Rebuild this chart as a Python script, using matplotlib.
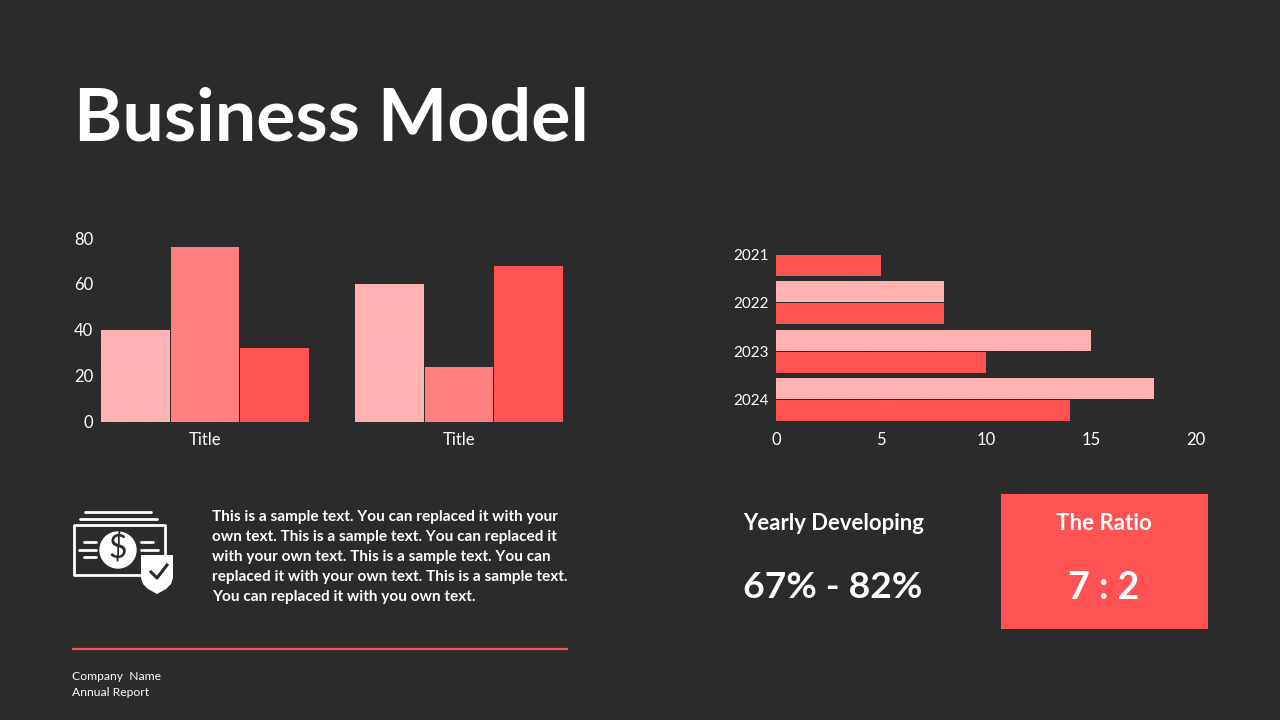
import numpy as np
import matplotlib
matplotlib.use('Agg')
import matplotlib.pyplot as plt
from matplotlib.patches import Rectangle, Circle, Polygon

BG = '#2b2b2b'
RED = '#ff5252'
MID = '#ff8080'
PINK = '#ffb3b3'

# left chart
group_labels = ['Title', 'Title']
series_a = [40, 60]
series_b = [76, 24]
series_c = [32, 68]

# right chart
years = ['2021', '2022', '2023', '2024']
pink_vals = [0, 8, 15, 18]
red_vals = [5, 8, 10, 14]

body_lines = [
    'This is a sample text. You can replaced it with your',
    'own text. This is a sample text. You can replaced it',
    'with your own text. This is a sample text. You can',
    'replaced it with your own text. This is a sample text.',
    'You can replaced it with you own text.',
]

plt.rcParams['font.family'] = ['Lato', 'DejaVu Sans']
plt.rcParams['hatch.linewidth'] = 0.3

W, H = 1280, 720
fig = plt.figure(figsize=(12.8, 7.2), dpi=100, facecolor=BG)


def px_axes(left, top, right, bottom):
    return fig.add_axes([left / W, 1 - bottom / H, (right - left) / W, (bottom - top) / H])


# overlay in pixel coordinates for the text and icon
ov = fig.add_axes([0, 0, 1, 1], zorder=5)
ov.set_xlim(0, W)
ov.set_ylim(H, 0)
ov.axis('off')
ov.patch.set_alpha(0)

ov.text(74, 120, 'Business Model', color='white', fontsize=52.9, fontweight='bold', va='center', ha='left')

# column chart
ax = px_axes(78, 238, 586, 422)
ax.set_facecolor(BG)
x = np.arange(len(group_labels))
w = 0.2715
step = 0.2755
ax.bar(x - step, series_a, w, color=PINK, edgecolor='#ffa6a6', hatch='......', linewidth=0)
ax.bar(x, series_b, w, color=MID, edgecolor='#ff7676', hatch='......', linewidth=0)
ax.bar(x + step, series_c, w, color=RED, linewidth=0)
ax.set_xlim(-0.5, 1.5)
ax.set_ylim(0, 80)
ax.set_xticks(x)
ax.set_xticklabels(group_labels)
ax.set_yticks([0, 20, 40, 60, 80])
ax.tick_params(length=0, colors='white', labelsize=12)
ax.tick_params(axis='y', pad=-11)
ax.tick_params(axis='x', pad=7)
for s in ax.spines.values():
    s.set_visible(False)

# horizontal bars
ax2 = px_axes(776, 230, 1196, 424)
ax2.set_facecolor(BG)
y = np.arange(len(years))
h = 0.44
ax2.barh(y - 0.228, pink_vals, h, color=PINK, edgecolor='#ffa6a6', hatch='......', linewidth=0)
ax2.barh(y + 0.228, red_vals, h, color=RED, linewidth=0)
ax2.set_xlim(0, 20)
ax2.set_ylim(3.5, -0.5)
ax2.set_yticks(y)
ax2.set_yticklabels(years)
ax2.set_xticks([0, 5, 10, 15, 20])
ax2.tick_params(length=0, colors='white', labelsize=12)
ax2.tick_params(axis='y', pad=5, labelsize=11)
ax2.tick_params(axis='x', pad=6)
for s in ax2.spines.values():
    s.set_visible(False)

# icon: banknote, coin, shield
ov.plot([85, 151], [511.5, 511.5], color='white', lw=2, solid_capstyle='round')
ov.plot([80, 157], [518.5, 518.5], color='white', lw=2, solid_capstyle='round')
ov.add_patch(Rectangle((73.5, 525), 91, 50, fill=False, ec='white', lw=2, joinstyle='round'))
ov.add_patch(Circle((118, 550), 18, color='white'))
ov.text(118, 549, '$', color=BG, fontsize=23, ha='center', va='center')
for x0, x1, yy in [(84, 96, 542), (79, 96, 550), (84, 96, 557), (141, 153, 542), (141, 158, 550)]:
    ov.plot([x0, x1], [yy, yy], color='white', lw=2, solid_capstyle='round')
ov.add_patch(Polygon([(141, 555), (173, 555), (173, 578), (171, 584), (166, 589), (157, 594),
                      (148, 589), (143, 584), (141, 578)], closed=True, fc='white', ec='none', zorder=3))
ov.plot([151, 157, 167], [572, 578, 565], color=BG, lw=2.2, zorder=4)

# body text
for i, line in enumerate(body_lines):
    ov.text(212, 517 + i * 20, line, color='white', fontsize=11.1, fontweight='bold', va='center', ha='left')

ov.plot([72, 568], [648.5, 648.5], color=RED, lw=1.6, solid_capstyle='butt')
ov.text(72, 676, 'Company  Name', color='white', fontsize=8.7, va='center', ha='left')
ov.text(72, 692, 'Annual Report', color='white', fontsize=8.7, va='center', ha='left')

# stat boxes
ov.text(834, 523, 'Yearly Developing', color='white', fontsize=15.9, fontweight='bold', ha='center', va='center')
ov.text(833, 588, '67% - 82%', color='white', fontsize=26.8, fontweight='bold', ha='center', va='center')
ov.add_patch(Rectangle((1001, 494), 207, 135, color=RED, lw=0))
ov.text(1104, 523, 'The Ratio', color='white', fontsize=16, fontweight='bold', ha='center', va='center')
ov.text(1104, 588, '7 : 2', color='white', fontsize=27, fontweight='bold', ha='center', va='center')

fig.savefig('out.png', dpi=100, facecolor=BG)
